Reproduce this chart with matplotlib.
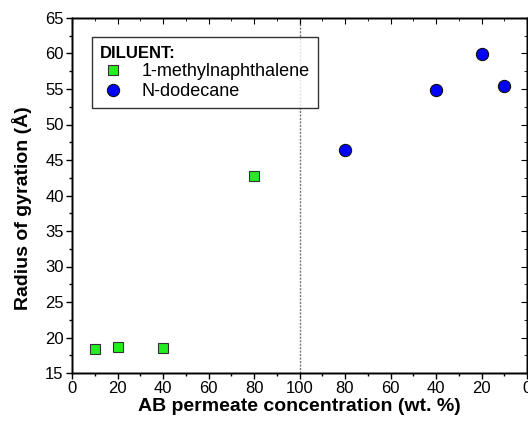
import matplotlib.pyplot as plt
from matplotlib.ticker import MultipleLocator, FixedLocator

plt.rcParams['font.family'] = ['Liberation Sans', 'DejaVu Sans']

# data: x position on a 0..200 axis (left half = AB in 1-MN, right half mirrored for dodecane)
mn_x = [10, 20, 40, 80]
mn_y = [18.4, 18.6, 18.5, 42.8]
dod_x = [120, 160, 180, 190]
dod_y = [46.4, 54.9, 59.9, 55.4]
xtick_pos = [0, 20, 40, 60, 80, 100, 120, 140, 160, 180, 200]
xtick_lab = ['0', '20', '40', '60', '80', '100', '80', '60', '40', '20', '0']

fig = plt.figure(figsize=(5.28, 4.24), dpi=100)
ax = fig.add_axes([72/528, 1 - 373/424, 455/528, 355/424])

ax.plot(mn_x, mn_y, 's', ms=7.5, mfc='#22ee22', mec='#333333', mew=0.8,
        label='1-methylnaphthalene', zorder=3)
ax.plot(dod_x, dod_y, 'o', ms=8.8, mfc='#0000ff', mec='#111111', mew=0.8,
        label='N-dodecane', zorder=3)
ax.axvline(100, color='#777777', lw=1, ls=(0, (1.5, 1)), zorder=1)

ax.set_xlim(0, 200)
ax.set_ylim(15, 65)
ax.xaxis.set_major_locator(FixedLocator(xtick_pos))
ax.set_xticklabels(xtick_lab)
ax.xaxis.set_minor_locator(MultipleLocator(10))
ax.yaxis.set_major_locator(MultipleLocator(5))
ax.yaxis.set_minor_locator(MultipleLocator(2.5))

ax.tick_params(which='both', direction='out', top=False, right=False,
               labelsize=12, width=1, colors='black', pad=2)
ax.tick_params(which='major', length=4)
ax.tick_params(which='minor', length=2.5)

# inward ticks on top and right spines
ax2 = ax.twinx()
ax2.set_ylim(15, 65)
ax2.yaxis.set_major_locator(MultipleLocator(5))
ax2.yaxis.set_minor_locator(MultipleLocator(2.5))
ax2.tick_params(which='both', direction='in', labelright=False)
ax2.tick_params(which='major', length=4)
ax2.tick_params(which='minor', length=2.5)
ax3 = ax.twiny()
ax3.set_xlim(0, 200)
ax3.xaxis.set_major_locator(MultipleLocator(20))
ax3.xaxis.set_minor_locator(MultipleLocator(10))
ax3.tick_params(which='both', direction='in', labeltop=False)
ax3.tick_params(which='major', length=4)
ax3.tick_params(which='minor', length=2.5)

for a in (ax, ax2, ax3):
    for s in a.spines.values():
        s.set_linewidth(1)

ax.set_xlabel('AB permeate concentration (wt. %)', fontsize=14, fontweight='bold', labelpad=1)
ax.set_ylabel('Radius of gyration (Å)', fontsize=14, fontweight='bold')
ax.yaxis.set_label_coords(-0.088, 0.465)

leg = ax.legend(loc='upper left', bbox_to_anchor=(20/455, 1 - 19.5/355), frameon=True,
                fancybox=False, edgecolor='black', fontsize=13, title='DILUENT:',
                alignment='left', borderpad=0.45, handletextpad=0.9, labelspacing=0.15,
                borderaxespad=0, handlelength=1.4)
leg.get_title().set_fontweight('bold')
leg.get_title().set_fontsize(12)
leg.get_frame().set_linewidth(1)
leg.set_zorder(5)

fig.savefig('out.png', dpi=100)
